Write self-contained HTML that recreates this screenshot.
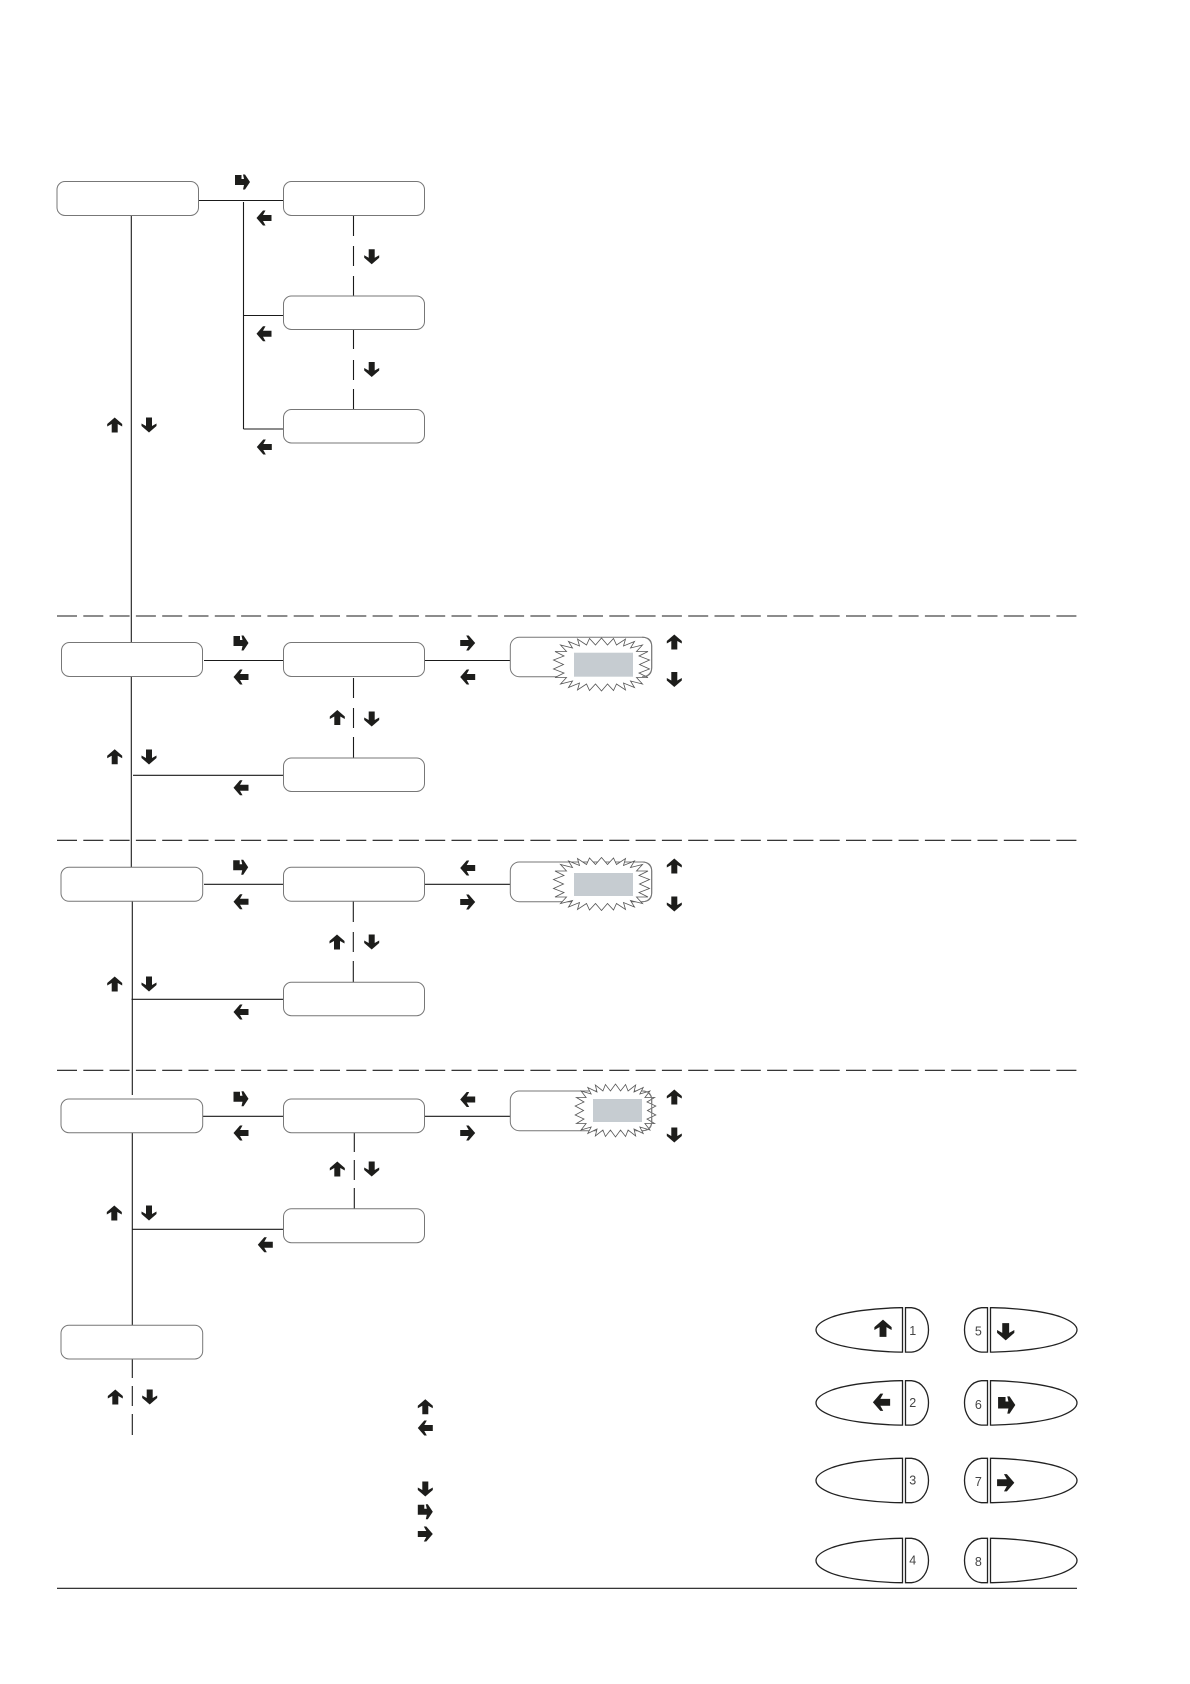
<!DOCTYPE html>
<html lang="en">
<head>
<meta charset="utf-8">
<title>Menu flow diagram</title>
<style>
html,body{margin:0;padding:0;background:#fff;width:1190px;height:1684px;overflow:hidden}
svg{display:block}
.b{fill:#fff;stroke:#777;stroke-width:1}
.l{stroke:#1a1a1a;stroke-width:1.1;fill:none}
.d{stroke:#1a1a1a;stroke-width:1.1;fill:none;stroke-dasharray:20 6.3}
.g{fill:#c6ccd1;stroke:none}
.s{fill:#fff;stroke:#555;stroke-width:.8;vector-effect:non-scaling-stroke}
.e{fill:none;stroke:#777;stroke-width:1}
.k{fill:#fff;stroke:#222;stroke-width:1.3}
text{font-family:"Liberation Sans",sans-serif;font-size:12.5px;fill:#444;text-anchor:middle}
</style>
</head>
<body>
<svg width="1190" height="1684" viewBox="0 0 1190 1684" xmlns="http://www.w3.org/2000/svg">
<defs>
<polygon id="u" fill="#1d1d1b" points="0,-7.5 7.5,-1 7.5,1.5 3,-1 3,7.5 -3,7.5 -3,-1 -7.5,1.5 -7.5,-1"/>
<polygon id="d" fill="#1d1d1b" points="0,7.5 7.5,1 7.5,-1.5 3,1 3,-7.5 -3,-7.5 -3,1 -7.5,-1.5 -7.5,1"/>
<polygon id="w" fill="#1d1d1b" points="-7.5,0 -1,7.5 1.5,7.5 -1,3 7.5,3 7.5,-3 -1,-3 1.5,-7.5 -1,-7.5"/>
<polygon id="r" fill="#1d1d1b" points="7.5,0 1,7.5 -1.5,7.5 1,3 -7.5,3 -7.5,-3 1,-3 -1.5,-7.5 1,-7.5"/>
<polygon id="t" fill="#1d1d1b" points="-7.5,-7 -1,-7 -1,-3 1.5,-3 .5,-7.5 2.5,-7.5 7.5,0 2.5,7.5 .5,7.5 1.5,3 -7.5,3"/>
<polygon id="star" class="s" points="38,0 48,4.5 37.5,8.5 46.5,13 35,13 41,19.5 29,16.5 33,23 22,18.5 24,25.5 15,19.5 12,26 6,19.5 0,26.5 -6,19.5 -12,26 -15,19.5 -24,25.5 -22,18.5 -33,23 -29,16.5 -41,19.5 -35,13 -46.5,13 -37.5,8.5 -48,4.5 -38,0 -48,-4.5 -37.5,-8.5 -46.5,-13 -35,-13 -41,-19.5 -29,-16.5 -33,-23 -22,-18.5 -24,-25.5 -15,-19.5 -12,-26 -6,-19.5 0,-26.5 6,-19.5 12,-26 15,-19.5 24,-25.5 22,-18.5 33,-23 29,-16.5 41,-19.5 35,-13 46.5,-13 37.5,-8.5 48,-4.5"/>
<g id="btn">
<path class="k" d="M-1,0 H-3 C-30,.5 -57,4 -72,9.5 C-81,13 -87.5,17 -87.5,22.2 C-87.5,27.5 -81,31.5 -72,35 C-57,40.5 -30,44 -3,44.4 H-1 Z"/>
<path class="k" d="M2,0 H8 C19,1 25,11 25,22.2 C25,33 19,43.5 8,44.4 H2 Z"/>
</g>
</defs>

<!-- separators -->
<line class="d" x1="57" y1="616" x2="1077" y2="616"/>
<line class="d" x1="57" y1="840.3" x2="1077" y2="840.3"/>
<line class="d" x1="57" y1="1070.3" x2="1077" y2="1070.3"/>
<line class="l" x1="57" y1="1588.3" x2="1077" y2="1588.3"/>

<!-- main vertical -->
<line class="l" x1="131.3" y1="215" x2="131.3" y2="644"/>
<line class="l" x1="131.3" y1="676" x2="131.3" y2="868"/>
<line class="l" x1="132.3" y1="901" x2="132.3" y2="1095"/>
<line class="l" x1="132.3" y1="1129" x2="132.3" y2="1326"/>
<path class="l" d="M132.3,1359V1378M132.3,1386V1406M132.3,1414V1435"/>

<!-- section 1 lines -->
<path class="l" d="M198,200.5H284M243.5,202V429M243.5,315.5H284M243.5,429H284"/>
<path class="l" d="M353.5,215V236M353.5,246V266M353.5,276V296M353.5,329V349M353.5,360V380M353.5,389V410"/>

<!-- section 2 lines -->
<path class="l" d="M204,660.5H284M424,660.5H511M133,775.3H284"/>
<path class="l" d="M353.5,678V698M353.5,708V728M353.5,737V758"/>

<!-- section 3 lines -->
<path class="l" d="M204,884.3H284M424,884.3H511M131.5,999.3H284"/>
<path class="l" d="M353.3,901V922M353.3,932V952M353.3,961V983"/>

<!-- section 4 lines -->
<path class="l" d="M199,1116.3H284M424,1116.3H511M132.5,1229.3H284"/>
<path class="l" d="M354.3,1133V1152M354.3,1160V1180M354.3,1188V1209"/>

<!-- boxes -->
<rect class="b" x="57" y="181.5" width="141.5" height="34" rx="8"/>
<rect class="b" x="283.5" y="181.5" width="141" height="34" rx="8"/>
<rect class="b" x="283.5" y="296" width="141" height="33.5" rx="8"/>
<rect class="b" x="283.5" y="409.5" width="141" height="33.5" rx="8"/>

<rect class="b" x="61.5" y="642.5" width="141" height="34" rx="8"/>
<rect class="b" x="283.5" y="642.5" width="141" height="34" rx="8"/>
<rect class="b" x="283.5" y="758" width="141" height="33.5" rx="8"/>

<rect class="b" x="61" y="867.3" width="141.7" height="34" rx="8"/>
<rect class="b" x="283.5" y="867.3" width="141" height="34" rx="8"/>
<rect class="b" x="283.5" y="982.3" width="141" height="33.4" rx="8"/>

<rect class="b" x="61" y="1099" width="141.7" height="33.7" rx="8"/>
<rect class="b" x="283.5" y="1099" width="141" height="33.7" rx="8"/>
<rect class="b" x="283.5" y="1208.7" width="141" height="34" rx="8"/>

<rect class="b" x="61" y="1325.3" width="141.7" height="33.7" rx="8"/>

<!-- value boxes with bursts -->
<rect class="b" x="510.3" y="637.3" width="141.4" height="39.4" rx="9"/>
<use href="#star" transform="translate(601.5,664.5)"/>
<path class="e" d="M642,637.3Q651.7,637.3 651.7,646V668Q651.7,676.7 642,676.7"/>
<rect class="g" x="574" y="652.7" width="59" height="24"/>

<rect class="b" x="510.3" y="862" width="141.4" height="39.7" rx="9"/>
<use href="#star" transform="translate(601.5,884)"/>
<path class="e" d="M642,862Q651.7,862 651.7,871V893Q651.7,901.7 642,901.7"/>
<rect class="g" x="574" y="873" width="59" height="23"/>

<rect class="b" x="510.3" y="1091" width="141.4" height="39.7" rx="9"/>
<use href="#star" transform="translate(615.5,1110.5) scale(.84,1)"/>
<path class="e" d="M642,1091Q651.7,1091 651.7,1100V1122Q651.7,1130.7 642,1130.7"/>
<rect class="g" x="593" y="1099" width="49" height="23"/>

<!-- arrows section 1 -->
<use href="#t" x="242.5" y="182"/>
<use href="#w" x="264" y="218"/>
<use href="#d" x="371.7" y="256.7"/>
<use href="#w" x="264" y="333.7"/>
<use href="#d" x="371.7" y="369.5"/>
<use href="#u" x="114.7" y="425"/>
<use href="#d" x="149" y="425"/>
<use href="#w" x="264.3" y="447"/>

<!-- arrows section 2 -->
<use href="#t" x="241" y="643"/>
<use href="#w" x="241" y="677"/>
<use href="#u" x="337.3" y="717.5"/>
<use href="#d" x="371.7" y="719"/>
<use href="#u" x="114.7" y="756.7"/>
<use href="#d" x="149" y="757"/>
<use href="#w" x="241" y="787.7"/>
<use href="#r" x="467.7" y="643"/>
<use href="#w" x="467.7" y="677"/>
<use href="#u" x="674.3" y="642"/>
<use href="#d" x="674.3" y="679.5"/>

<!-- arrows section 3 -->
<use href="#t" x="240.7" y="867.3"/>
<use href="#w" x="241" y="901.7"/>
<use href="#u" x="337" y="942"/>
<use href="#d" x="371.7" y="942"/>
<use href="#u" x="114.7" y="984"/>
<use href="#d" x="149" y="984"/>
<use href="#w" x="241" y="1012"/>
<use href="#w" x="467.7" y="868"/>
<use href="#r" x="467.7" y="902"/>
<use href="#u" x="674.3" y="866"/>
<use href="#d" x="674.3" y="904"/>

<!-- arrows section 4 -->
<use href="#t" x="241" y="1098.7"/>
<use href="#w" x="241" y="1133"/>
<use href="#u" x="337.3" y="1169"/>
<use href="#d" x="371.7" y="1169"/>
<use href="#u" x="114.3" y="1213"/>
<use href="#d" x="149" y="1213"/>
<use href="#w" x="265.3" y="1244.7"/>
<use href="#w" x="467.7" y="1099.5"/>
<use href="#r" x="467.7" y="1133"/>
<use href="#u" x="674.3" y="1097"/>
<use href="#d" x="674.3" y="1135"/>

<!-- bottom arrows -->
<use href="#u" x="115.3" y="1397"/>
<use href="#d" x="149.7" y="1397"/>

<!-- legend -->
<use href="#u" x="425.3" y="1406.7"/>
<use href="#w" x="425.3" y="1428"/>
<use href="#d" x="425.3" y="1489"/>
<use href="#t" x="425.3" y="1511.7"/>
<use href="#r" x="425.3" y="1534"/>

<!-- buttons -->
<use href="#btn" transform="translate(903.5,1307.7)"/>
<use href="#btn" transform="translate(903.5,1380.7)"/>
<use href="#btn" transform="translate(903.5,1458.3)"/>
<use href="#btn" transform="translate(903.5,1538.3)"/>
<use href="#btn" transform="translate(989.5,1307.7) scale(-1,1)"/>
<use href="#btn" transform="translate(989.5,1380.7) scale(-1,1)"/>
<use href="#btn" transform="translate(989.5,1458.3) scale(-1,1)"/>
<use href="#btn" transform="translate(989.5,1538.3) scale(-1,1)"/>

<use href="#u" transform="translate(883,1328.3) scale(1.15)"/>
<use href="#w" transform="translate(881.5,1402.3) scale(1.15)"/>
<use href="#d" transform="translate(1005.7,1331.7) scale(1.15)"/>
<use href="#t" transform="translate(1006.7,1405) scale(1.15)"/>
<use href="#r" transform="translate(1005.7,1482.7) scale(1.15)"/>

<text x="912.7" y="1335">1</text>
<text x="912.7" y="1407">2</text>
<text x="912.7" y="1484.7">3</text>
<text x="912.7" y="1564.7">4</text>
<text x="978.3" y="1335.7">5</text>
<text x="978.3" y="1409">6</text>
<text x="978.3" y="1486">7</text>
<text x="978.3" y="1566">8</text>
</svg>
</body>
</html>
